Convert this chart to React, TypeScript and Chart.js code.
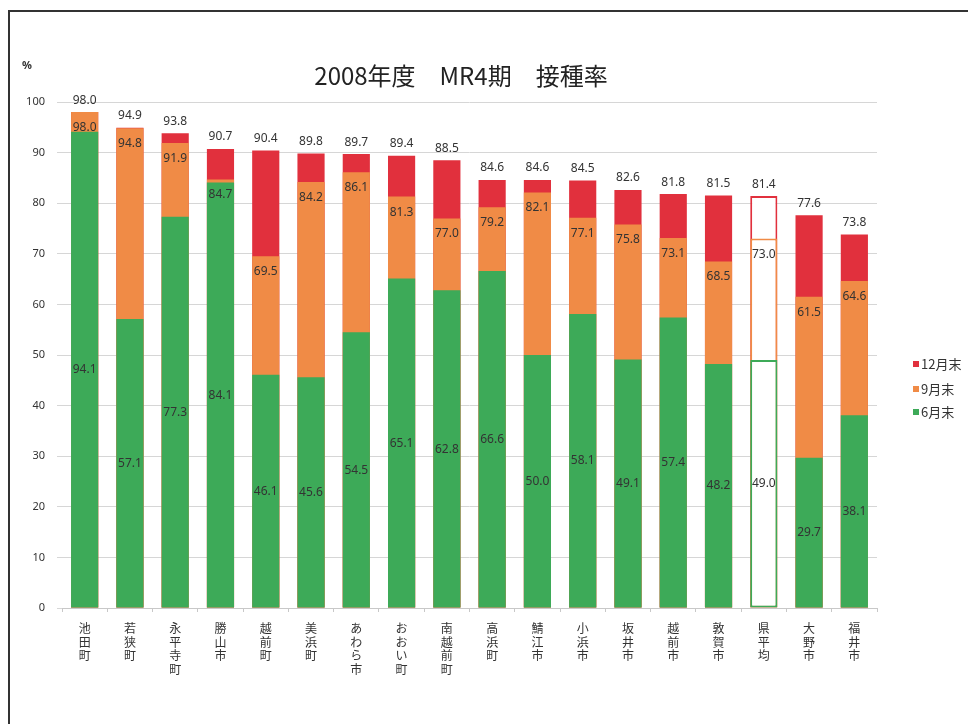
import React, { useEffect, useRef } from 'react';
import { Chart, registerables } from 'chart.js';

Chart.register(...registerables);

const categories = ['池田町', '若狭町', '永平寺町', '勝山市', '越前町', '美浜町', 'あわら市', 'おおい町', '南越前町', '高浜町', '鯖江市', '小浜市', '坂井市', '越前市', '敦賀市', '県平均', '大野市', '福井市'];
const dec = [98.0, 94.9, 93.8, 90.7, 90.4, 89.8, 89.7, 89.4, 88.5, 84.6, 84.6, 84.5, 82.6, 81.8, 81.5, 81.4, 77.6, 73.8];
const sep = [98.0, 94.8, 91.9, 84.7, 69.5, 84.2, 86.1, 81.3, 77.0, 79.2, 82.1, 77.1, 75.8, 73.1, 68.5, 73.0, 61.5, 64.6];
const jun = [94.1, 57.1, 77.3, 84.1, 46.1, 45.6, 54.5, 65.1, 62.8, 66.6, 50.0, 58.1, 49.1, 57.4, 48.2, 49.0, 29.7, 38.1];
const seriesNames = ['12月末', '9月末', '6月末'];
const titleText = '2008年度　MR4期　接種率';
const unitText = '%';
const avgName = '県平均';

const RED = '#E1303D';
const ORANGE = '#F08B46';
const GREEN = '#3DAA58';
const colors = [RED, ORANGE, GREEN];

const JP = "'Noto Sans CJK JP', 'Noto Sans', sans-serif";
const NUM = "'Noto Sans', 'DejaVu Sans', sans-serif";

export default function App() {
  const ref = useRef<HTMLCanvasElement | null>(null);
  useEffect(() => {
    const canvas = ref.current;
    if (!canvas) return;
    const avgIndex = categories.indexOf(avgName);
    const bg = (c: string) => categories.map((_, i) => (i === avgIndex ? '#ffffff' : c));
    const bw = categories.map((_, i) => (i === avgIndex ? 2 : 0));
    const seriesData = [dec, sep, jun];

    const overlay = {
      id: 'overlay',
      afterDatasetsDraw(chart: any) {
        const ctx = chart.ctx;
        ctx.save();
        ctx.font = `12px ${NUM}`;
        ctx.fillStyle = '#333333';
        ctx.textAlign = 'center';
        ctx.textBaseline = 'middle';
        const y = chart.scales.y;
        [0, 1, 2].forEach((di) => {
          const meta = chart.getDatasetMeta(di);
          meta.data.forEach((bar: any, i: number) => {
            const v = seriesData[di][i];
            const top = y.getPixelForValue(v);
            let ty = top;
            if (di === 0) ty = top - 12;
            else if (di === 1) ty = top + 15.5;
            else ty = y.getPixelForValue(v / 2);
            ctx.fillText(v.toFixed(1), bar.x, ty);
          });
        });
        ctx.restore();
      },
      afterDraw(chart: any) {
        const ctx = chart.ctx;
        ctx.save();
        ctx.fillStyle = '#222222';
        ctx.textAlign = 'center';
        ctx.textBaseline = 'middle';
        ctx.font = `24px ${JP}`;
        ctx.fillText(titleText, 451, 64);
        ctx.font = `bold 11px ${NUM}`;
        ctx.fillStyle = '#333333';
        ctx.textAlign = 'left';
        ctx.fillText(unitText, 12, 54);
        ctx.font = `13px ${JP}`;
        const ys = [352, 377, 400];
        seriesNames.forEach((n, i) => {
          ctx.fillStyle = colors[i];
          ctx.fillRect(903, ys[i] - 3, 6, 6);
          ctx.fillStyle = '#333333';
          ctx.fillText(n, 911, ys[i]);
        });
        ctx.restore();
      },
    };

    const chart = new Chart(canvas, {
      type: 'bar',
      data: {
        labels: categories,
        datasets: seriesNames.map((name, di) => ({
          label: name,
          data: seriesData[di],
          backgroundColor: bg(colors[di]),
          borderColor: colors[di],
          borderWidth: bw,
          borderSkipped: false,
          order: 3 - di,
          grouped: false,
          barPercentage: 0.6,
          categoryPercentage: 1,
        })) as any,
      },
      options: {
        responsive: false,
        animation: false,
        layout: { padding: { top: 90, right: 91, bottom: 0, left: 0 } },
        plugins: {
          legend: { display: false },
          title: { display: false },
          tooltip: { enabled: false },
        },
        scales: {
          x: {
            grid: {
              offset: true,
              drawOnChartArea: false,
              drawTicks: true,
              tickLength: 4,
              color: '#c8c8c8',
            },
            border: { display: true, color: '#c8c8c8' },
            ticks: {
              autoSkip: false,
              maxRotation: 0,
              minRotation: 0,
              padding: 10,
              color: '#333333',
              font: { family: JP, size: 12, lineHeight: 1.12 },
              callback: (_v: any, i: number) => Array.from(categories[i]),
            },
            afterFit: (s: any) => {
              s.height = 116;
            },
          },
          y: {
            min: 0,
            max: 100,
            ticks: {
              stepSize: 10,
              padding: 12,
              color: '#333333',
              font: { family: NUM, size: 11 },
            },
            grid: { color: '#d6d6d6', tickLength: 5 },
            border: { display: false },
            afterFit: (s: any) => {
              s.width = 52;
            },
          },
        },
      },
      plugins: [overlay],
    });
    return () => chart.destroy();
  }, []);

  return (
    <div
      style={{
        position: 'fixed',
        left: 8,
        top: 10,
        width: 960,
        height: 714,
        borderTop: '2px solid #333',
        borderLeft: '2px solid #333',
        boxSizing: 'border-box',
        background: '#ffffff',
      }}
    >
      <canvas ref={ref} width={958} height={712} style={{ display: 'block' }} />
    </div>
  );
}
